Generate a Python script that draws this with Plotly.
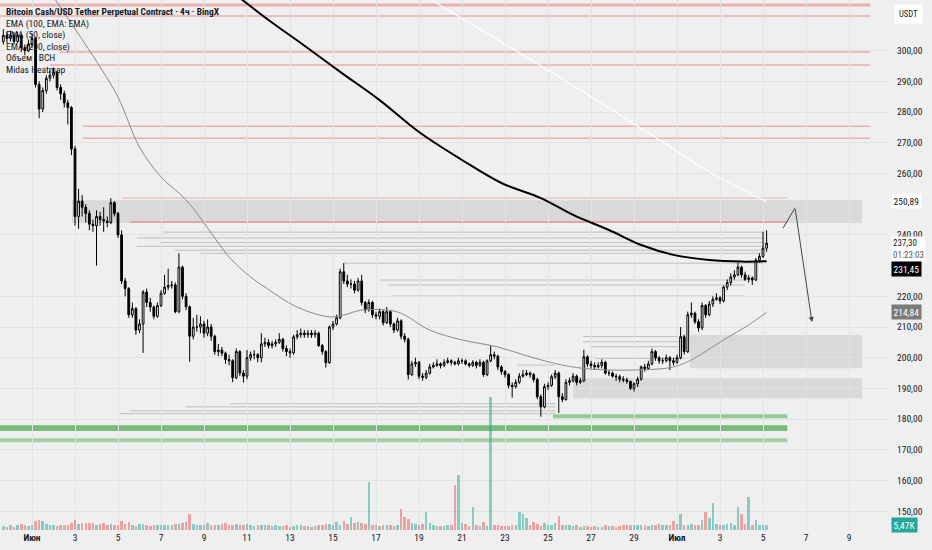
import pandas as pd
import plotly.graph_objects as go

# 4h candles, BCH/USDT perpetual (BingX)
first_open = 303
closes = [
    305, 304, 305, 303, 305, 301, 300, 302,
    304, 289, 281, 287, 291, 292,
    293, 288, 286, 283, 281.5, 268,
    246, 251, 249, 247, 243.5, 243,
    246, 245, 244.5, 244, 250.5, 247,
    240, 225, 222.5, 214, 216, 209,
    211, 221.4, 218, 216.5, 213.5, 217,
    221, 223, 223.5, 223.7, 215, 229.5,
    220, 216.6, 207, 210, 210, 211,
    208, 210, 207, 202, 202.5, 201.5,
    199.4, 199, 193.5, 202, 195, 194,
    200, 201, 201, 200, 204.5, 205,
    204, 204.5, 205, 206, 203, 202,
    201.6, 206.8, 207.5, 208, 207.5, 208,
    207.5, 208, 204, 202, 198.4, 210,
    211, 213, 228, 225, 224, 224,
    222, 225, 218, 215.6, 218, 214,
    213.5, 215, 211.4, 215, 211, 209,
    212, 207, 206, 194.5, 198, 198.5,
    194, 193.6, 195, 197, 197.5, 198,
    197.5, 198.5, 199, 198.5, 198, 199,
    199, 198, 197.5, 198.5, 197.5, 198.5,
    194.5, 199, 201, 200.5, 197, 195.5,
    194.5, 191, 190.6, 192, 194, 194.5,
    195, 194.5, 192.9, 187.3, 184, 190.6,
    191, 193.8, 195, 187.3, 186.4, 192,
    192.5, 194, 192, 192.5, 200.3, 198,
    197.5, 197, 197.5, 198.5, 195, 195,
    194, 193.8, 193, 192.8, 192.3, 190,
    191.5, 193, 197, 196.5, 198, 202,
    200, 199, 199, 200, 199, 198.5,
    200, 206.8, 202, 214, 214.5, 211.7,
    209.7, 217, 214, 217.5, 219, 219.5,
    218.5, 223, 224.5, 226.3, 227, 229.5,
    227, 225.5, 226, 225.3, 231.8, 233,
    235.7, 237.3,
]
highs = [
    307, 306, 306.5, 306, 306, 305.5, 302, 303.5,
    305.5, 304.5, 290, 288, 292, 293.5,
    294.5, 293.5, 289, 287, 284, 282,
    269, 255, 253, 250, 248, 245,
    248, 247.5, 249, 246, 252, 251,
    247.5, 241.5, 226, 223, 218, 216.5,
    212.5, 222, 222.5, 219.5, 217, 218,
    222, 227, 229, 225, 224.5, 234,
    230, 221, 217, 213, 214, 213.5,
    212, 212.5, 211, 207.5, 204.5, 203.5,
    202, 201, 199.5, 203, 202.5, 196,
    202.5, 202, 202.5, 201.5, 208, 206.5,
    206, 205.5, 206, 208, 206.5, 204,
    203, 207.5, 209, 209.5, 209, 209,
    209, 209, 208.5, 204.5, 202.5, 210.5,
    212, 214, 229, 230.8, 227, 225.5,
    225, 226, 227, 218.5, 219, 218.5,
    215, 216, 215.5, 216.5, 215.5, 211.5,
    213, 212.5, 208, 206.5, 199, 200,
    199, 195, 196, 198, 198.5, 199.5,
    198.5, 199.5, 200, 199.5, 199, 200,
    199.8, 199.5, 198.5, 199.2, 199, 199.5,
    199, 199.5, 204, 202, 201, 197.5,
    196, 195, 192, 193, 195, 196,
    196, 195.5, 195, 193.5, 188, 191.5,
    192, 194.5, 196, 195.5, 188.5, 193,
    193.5, 195, 194.5, 193.5, 202.6, 200.8,
    199, 198.5, 198.5, 199.5, 199, 196,
    195.5, 194.8, 194.5, 194, 193.5, 192.5,
    192, 193.8, 197.5, 198, 199, 203,
    202.5, 200.5, 200, 201, 200.5, 200,
    201, 210, 207.5, 215, 218, 215,
    212.5, 218, 217.5, 218.5, 220, 221,
    220, 223.5, 225.5, 227.5, 228.5, 231,
    230, 228, 227, 226.5, 232.5, 234,
    241, 241.5,
]
lows = [
    302, 302.5, 303, 302, 302.5, 299.5, 298.5, 299.5,
    301, 288, 278, 280, 286, 290,
    291, 287, 284, 281.5, 276, 266,
    243, 242, 246, 244, 241.5, 241,
    230, 243, 241, 242.5, 243.5, 246,
    239, 224, 220, 213, 213, 207.5,
    208, 201.6, 216.5, 215, 212.5, 213,
    216.5, 220.5, 222, 222.5, 214.5, 214.5,
    219, 215.5, 198.7, 206, 208.5, 208,
    206.5, 207, 205.5, 201, 200.5, 200.5,
    198, 197.5, 192, 193, 194, 191.9,
    193, 199, 199.5, 198.5, 198.5, 203.5,
    203, 203, 203.5, 204.5, 202, 200.5,
    200, 201, 206, 206.5, 206.5, 206.5,
    206.5, 206.5, 203.5, 201, 196.8, 198,
    209, 210.5, 212.5, 224, 223, 222.5,
    221, 221.5, 217, 214.5, 215, 213,
    212.5, 212.5, 210.5, 211, 210, 208,
    208.5, 206, 205, 192.9, 194, 197,
    193, 192.5, 193, 194.5, 196.5, 197,
    196.5, 197, 198, 197.5, 197.5, 197.5,
    198, 197.5, 196.8, 197, 196.5, 197,
    193.8, 194, 198.5, 199.5, 196, 194.5,
    193.5, 190, 187, 190, 191.5, 193.5,
    194, 193.5, 192, 186.5, 180.8, 183.5,
    189.5, 190.5, 193, 182, 185.5, 186,
    191, 192, 191, 191.5, 192, 197,
    196.5, 196, 196.5, 196.5, 194.5, 194,
    193.5, 192.5, 192, 192, 191.5, 189.5,
    189, 190.5, 192.5, 195.5, 196, 197.5,
    199, 198, 198, 198.5, 196, 197.5,
    198, 199.5, 201, 201.5, 213, 211,
    208.5, 209, 213, 213.5, 216.5, 218.5,
    217.5, 218, 222, 223.5, 225.5, 226.5,
    226, 225, 224.5, 223.7, 225, 231,
    232.5, 234.5,
]
# volume, thousands of BCH
volumes = [
    4, 3, 5, 3, 6, 7, 6, 4,
    5, 10, 11, 10, 7, 6,
    5, 4, 5, 6, 5, 8,
    11, 7, 8, 8, 8, 8,
    6, 7, 8, 6, 7, 5,
    5, 10, 7, 9, 5, 4,
    7, 7, 5, 4, 5, 5,
    5, 5, 5, 5, 7, 7,
    8, 9, 17, 7, 6, 5,
    6, 8, 5, 5, 6, 7,
    8, 6, 6, 7, 5, 6,
    7, 5, 4, 6, 5, 5,
    6, 4, 5, 4, 4, 5,
    3, 4, 5, 5, 4, 4,
    3, 4, 6, 6, 7, 7,
    6, 9, 6, 10, 7, 14,
    8, 9, 8, 7, 52, 6,
    5, 4, 5, 5, 6, 4,
    5, 23, 14, 12, 8, 7,
    6, 7, 20, 8, 5, 4,
    4, 4, 5, 5, 49, 60,
    8, 7, 4, 25, 5, 4,
    9, 4, 146, 5, 5, 4,
    4, 4, 5, 5, 20, 18,
    13, 5, 9, 7, 4, 8,
    6, 6, 8, 15, 6, 6,
    5, 4, 5, 3, 4, 4,
    3, 4, 3, 3, 5, 4,
    4, 3, 4, 5, 5, 6,
    5, 5, 6, 5, 4, 6,
    6, 7, 5, 5, 6, 10,
    7, 17, 5, 5, 7, 6,
    5, 11, 20, 13, 30, 7,
    5, 6, 7, 8, 6, 25,
    17, 7, 36, 6, 11, 6,
    6, 5.47,
]

# moving averages
ema200_t = ["2024-06-10 12:00", "2024-06-12 00:00", "2024-06-13 12:00", "2024-06-15 08:00",
            "2024-06-17 04:00", "2024-06-19 00:00", "2024-06-21 00:00", "2024-06-22 20:00",
            "2024-06-24 16:00", "2024-06-26 04:00", "2024-06-27 20:00", "2024-06-29 08:00",
            "2024-06-30 20:00", "2024-07-02 12:00", "2024-07-04 00:00", "2024-07-05 04:00"]
ema200_v = [318.1, 310.0, 302.5, 293.1, 283.9, 273.5, 264.4, 256.9,
            252.0, 246.5, 241.6, 236.7, 233.5, 231.8, 231.3, 231.45]
ema100_t = ["2024-06-19 08:00", "2024-06-22 20:00", "2024-06-26 12:00",
            "2024-06-29 20:00", "2024-07-02 12:00", "2024-07-05 04:00"]
ema100_v = [317.5, 302.8, 287.2, 272.5, 260.5, 250.89]
ema50_t = ["2024-06-02 00:00", "2024-06-04 04:00", "2024-06-05 00:00", "2024-06-06 00:00",
           "2024-06-07 00:00", "2024-06-08 04:00", "2024-06-09 16:00", "2024-06-10 04:00",
           "2024-06-11 04:00", "2024-06-11 20:00", "2024-06-13 08:00", "2024-06-14 20:00",
           "2024-06-15 12:00", "2024-06-16 08:00", "2024-06-18 00:00", "2024-06-19 12:00",
           "2024-06-21 00:00", "2024-06-22 16:00", "2024-06-24 04:00", "2024-06-25 16:00",
           "2024-06-27 00:00", "2024-06-29 00:00", "2024-06-30 20:00", "2024-07-01 16:00",
           "2024-07-03 04:00", "2024-07-04 08:00", "2024-07-05 04:00"]
ema50_v = [317.5, 294.7, 284.9, 268.6, 258.9, 251.4, 237.4, 232.8,
           226.3, 223.0, 216.5, 213.3, 213.9, 215.5, 214.9, 209.0,
           205.8, 203.5, 200.3, 197.6, 196.3, 196.0, 197.0, 199.3,
           205.8, 210.7, 214.84]

# Midas heatmap levels
red_levels = [314.9, 311.3, 299.6, 295.3, 275.4, 271.5, 252.0, 244.2]
red_start = ["2024-05-30 12:00", "2024-05-30 12:00", "2024-06-02 07:00", "2024-06-01 20:00",
             "2024-06-03 09:00", "2024-06-03 09:00", "2024-06-05 04:30", "2024-06-05 13:30"]
red_end = ["2024-07-09 23:30"] * 6 + ["2024-07-06 03:00"] * 2

gray_levels = [240.9, 239.0, 237.5, 236.3, 235.0, 234.0, 230.8, 225.3, 223.7, 220.1,
               206.9, 205.2, 203.6, 199.8, 197.6, 185.0, 184.0, 182.7, 181.8]
gray_start = ["2024-06-07 02:00", "2024-06-05 21:00", "2024-06-06 23:00", "2024-06-05 21:00",
              "2024-06-07 15:30", "2024-06-08 19:30", "2024-06-15 11:00", "2024-06-17 04:30",
              "2024-06-17 13:30", "2024-06-17 18:00", "2024-06-26 15:00", "2024-06-26 15:00",
              "2024-06-26 23:00", "2024-06-27 04:30", "2024-06-23 13:30", "2024-06-10 05:00",
              "2024-06-08 03:00", "2024-06-05 13:30", "2024-06-05 02:00"]
gray_end = (["2024-07-05 02:00"] * 7 + ["2024-07-04 04:00"] * 3
            + ["2024-07-01 09:00"] * 4 + ["2024-06-25 08:00"] * 5)

zone_lo = [243.9, 196.6, 186.8]
zone_hi = [251.3, 207.4, 193.3]
zone_start = ["2024-06-02 20:30", "2024-07-01 14:30", "2024-06-26 04:00"]
zone_end = "2024-07-09 14:30"

green_lo = [176.1, 172.5, 180.3]
green_hi = [178.0, 173.8, 181.6]
green_start = ["2024-05-30 12:00", "2024-05-30 12:00", "2024-06-25 05:30"]
green_end = "2024-07-06 03:00"

arrow_t = ["2024-07-05 22:20", "2024-07-06 11:45", "2024-07-07 06:40"]
arrow_v = [242.2, 248.8, 211.6]

price_ticks = [150, 160, 170, 180, 190, 200, 210, 220, 240, 260, 270, 280, 290, 300]

tick_dates = ["2024-06-01", "2024-06-03", "2024-06-05", "2024-06-07", "2024-06-09",
              "2024-06-11", "2024-06-13", "2024-06-15", "2024-06-17", "2024-06-19",
              "2024-06-21", "2024-06-23", "2024-06-25", "2024-06-27", "2024-06-29",
              "2024-07-01", "2024-07-03", "2024-07-05", "2024-07-07", "2024-07-09"]
tick_text = ["<b>Июн</b>", "3", "5", "7", "9", "11", "13", "15", "17", "19", "21", "23",
             "25", "27", "29", "<b>Июл</b>", "3", "5", "7", "9"]

legend_lines = ["Bitcoin Cash/USD Tether Perpetual Contract · 4ч · BingX",
                "EMA (100, EMA: EMA)", "EMA (50, close)", "EMA (200, close)",
                "Объем · BCH", "Midas Heatmap"]

times = pd.date_range("2024-05-30 16:00", periods=len(closes), freq="4h")
opens = [first_open] + closes[:-1]

BG = "#efefef"
FONT = "Liberation Sans Narrow, Roboto Condensed, Roboto, sans-serif"
TEAL = "rgba(38,166,154,0.5)"
RED = "rgba(239,83,80,0.5)"

fig = go.Figure()

vol_colors = [TEAL if c >= o else RED for o, c in zip(opens, closes)]
fig.add_trace(go.Bar(x=times, y=volumes, marker_color=vol_colors, marker_line_width=0,
                     width=4 * 3600 * 1000 * 0.7, yaxis="y2", hoverinfo="skip"))

fig.add_trace(go.Candlestick(
    x=times, open=opens, high=highs, low=lows, close=closes,
    increasing=dict(line=dict(color="#000000", width=1), fillcolor="#ffffff"),
    decreasing=dict(line=dict(color="#000000", width=1), fillcolor="#000000"),
    whiskerwidth=0, hoverinfo="skip",
))

fig.add_trace(go.Scatter(x=ema50_t, y=ema50_v, mode="lines", line_shape="spline",
                         line=dict(color="#8a8a8a", width=1)))
fig.add_trace(go.Scatter(x=ema100_t, y=ema100_v, mode="lines", line_shape="spline",
                         line=dict(color="#ffffff", width=1.2)))
fig.add_trace(go.Scatter(x=ema200_t, y=ema200_v, mode="lines", line_shape="spline",
                         line=dict(color="#000000", width=2)))
fig.add_trace(go.Scatter(x=arrow_t[:2], y=arrow_v[:2], mode="lines",
                         line=dict(color="#444444", width=1)))

# heatmap zones and levels
for lo, hi, st in zip(zone_lo, zone_hi, zone_start):
    fig.add_shape(type="rect", x0=st, x1=zone_end, y0=lo, y1=hi, layer="below",
                  fillcolor="rgba(190,190,190,0.45)", line_width=0)
for lo, hi, st, col in zip(green_lo, green_hi, green_start,
                           ["rgba(95,180,100,0.85)", "rgba(120,190,120,0.65)",
                            "rgba(110,190,115,0.7)"]):
    fig.add_shape(type="rect", x0=st, x1=green_end, y0=lo, y1=hi, layer="below",
                  fillcolor=col, line_width=0)
for lvl, st, en in zip(gray_levels, gray_start, gray_end):
    fig.add_shape(type="line", x0=st, x1=en, y0=lvl, y1=lvl, layer="below",
                  line=dict(color="rgba(150,150,150,0.55)", width=1))
red_w = [3, 1.5, 1.5, 1.5, 1.5, 1.5, 1, 2]
for lvl, st, en, w in zip(red_levels, red_start, red_end, red_w):
    fig.add_shape(type="line", x0=st, x1=en, y0=lvl, y1=lvl, layer="below",
                  line=dict(color="rgba(235,120,120,0.55)", width=w))

fig.add_annotation(x=arrow_t[2], y=arrow_v[2], ax=arrow_t[1], ay=arrow_v[1],
                   xref="x", yref="y", axref="x", ayref="y", text="",
                   showarrow=True, arrowhead=2, arrowsize=1, arrowwidth=1,
                   arrowcolor="#444444")

# legend block, top left
for k, line in enumerate(legend_lines):
    fig.add_annotation(x=0, y=1, xref="paper", yref="paper", xanchor="left", yanchor="top",
                       xshift=4, yshift=-4 - 11.6 * k, showarrow=False,
                       text=line if k else "<b>" + line + "</b>",
                       font=dict(family=FONT, size=9.5, color="#131722"))

# price scale labels
def scale_label(price, text, bg, fg, yshift=0, yref="y"):
    fig.add_annotation(x=1, y=price, xref="paper", yref=yref, xanchor="left",
                       xshift=3, yshift=yshift, showarrow=False, text=text,
                       bgcolor=bg, borderpad=1.5,
                       font=dict(family=FONT, size=9.5, color=fg))

scale_label(250.89, "250,89", "#ffffff", "#131722")
scale_label(214.84, "214,84", "#7a7a7a", "#ffffff")
scale_label(volumes[-1], "5,47K", "#26a69a", "#ffffff", yref="y2")
fig.add_annotation(x=1, y=closes[-1], xref="paper", yref="y", xanchor="left",
                   yanchor="top", xshift=3, yshift=7, showarrow=False,
                   text="237,30<br><span style='color:#555'>01:23:03</span>",
                   bgcolor="#ffffff", borderpad=1, align="left",
                   font=dict(family=FONT, size=9, color="#131722"))
scale_label(231.45, "231,45", "#000000", "#ffffff", yshift=-8)
fig.add_annotation(x=1, y=1, xref="paper", yref="paper", xanchor="left", yanchor="top",
                   xshift=6, yshift=-4, showarrow=False, text="USDT",
                   bgcolor="#ffffff", borderpad=4,
                   font=dict(family=FONT, size=8.5, color="#131722"))

fig.update_layout(
    width=932, height=550,
    margin=dict(l=0, r=44, t=0, b=20),
    paper_bgcolor=BG, plot_bgcolor=BG,
    showlegend=False, separators=", ",
    bargap=0,
    xaxis=dict(type="date", range=["2024-05-30 12:17", "2024-07-10 19:30"],
               tickvals=tick_dates, ticktext=tick_text, showgrid=True,
               gridcolor="#e2e2e2", zeroline=False, showline=False,
               rangeslider=dict(visible=False), ticks="",
               tickfont=dict(family=FONT, size=9.5, color="#131722")),
    yaxis=dict(range=[143.9, 316.5], side="right", tickvals=price_ticks,
               tickformat=".2f", showgrid=True, gridcolor="#e2e2e2",
               zeroline=False, showline=False, ticks="", ticklabelstandoff=8,
               tickfont=dict(family=FONT, size=9.5, color="#131722")),
    yaxis2=dict(range=[0, 580], overlaying="y", visible=False, fixedrange=True),
)

# drop the default page margin so the chart sits at the window corner
fig.write_html("out.html", config={"displayModeBar": False},
               post_script="document.body.style.margin='0px';")
